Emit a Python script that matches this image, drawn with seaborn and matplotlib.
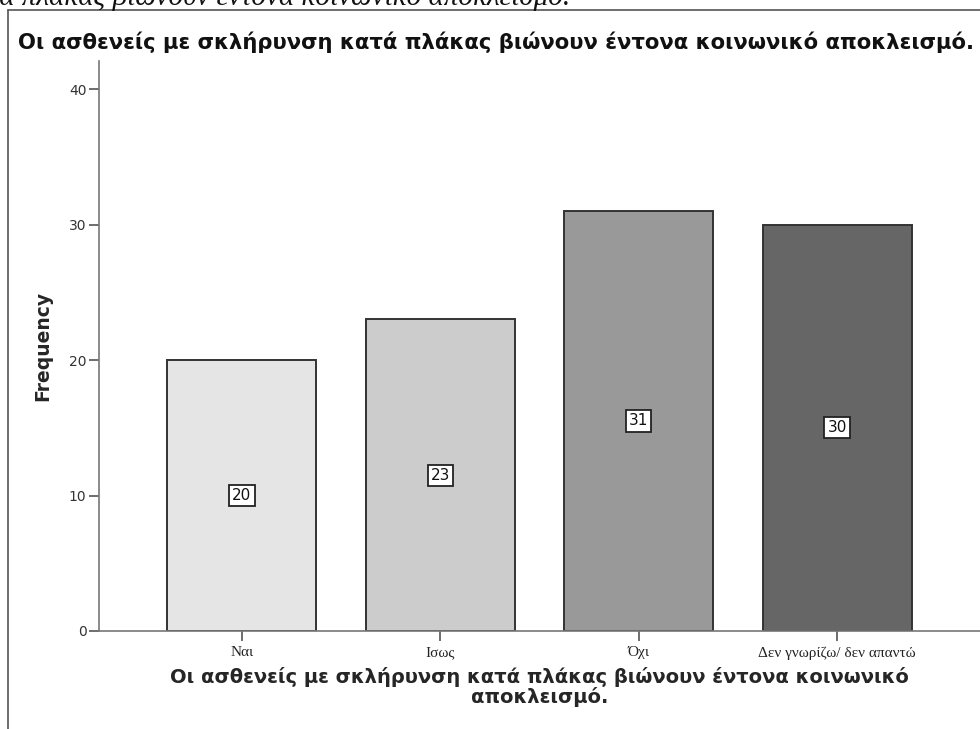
import matplotlib
matplotlib.use("Agg")
import matplotlib.pyplot as plt
from matplotlib.lines import Line2D
import seaborn as sns
import pandas as pd

# Survey responses and their counts
categories = ["Ναι", "Ισως", "Όχι", "Δεν γνωρίζω/ δεν απαντώ"]
counts = [20, 23, 31, 30]
bar_colors = ["#e5e5e5", "#cccccc", "#999999", "#666666"]
y_ticks = [0, 10, 20, 30, 40]

question = "Οι ασθενείς με σκλήρυνση κατά πλάκας βιώνουν έντονα κοινωνικό αποκλεισμό."
x_label = "Οι ασθενείς με σκλήρυνση κατά πλάκας βιώνουν έντονα κοινωνικό\nαποκλεισμό."

sns.set_theme(style="white")
plt.rcParams["font.family"] = ["DejaVu Sans"]

W, H = 980, 729
fig = plt.figure(figsize=(W / 100, H / 100), dpi=100)
fig.patch.set_facecolor("white")

ax = fig.add_axes([99 / W, 1 - 631 / H, (W - 99) / W, (631 - 61) / H])

df = pd.DataFrame({"cat": categories, "n": counts})
sns.barplot(data=df, x="cat", y="n", hue="cat", palette=bar_colors,
            width=0.75, edgecolor="#333333", linewidth=1.4, legend=False,
            saturation=1, ax=ax)

ax.set_xlim(-0.72, 3.72)
ax.set_ylim(0, 42.07)
ax.set_yticks(y_ticks)
ax.set_yticklabels([str(t) for t in y_ticks], fontsize=10, color="#333333")
ax.set_xticks(range(len(categories)))
ax.set_xticklabels(categories, fontsize=11, family="Liberation Serif", color="#222222")
ax.tick_params(axis="both", which="both", length=7, width=1.2, color="#555555",
               direction="out", left=True, bottom=True, pad=2)
ax.tick_params(axis="x", pad=4)

for s in ["top", "right"]:
    ax.spines[s].set_visible(False)
for s in ["left", "bottom"]:
    ax.spines[s].set_color("#777777")
    ax.spines[s].set_linewidth(1.2)

# Count labels in boxes at mid-height of each bar
for i, v in enumerate(counts):
    ax.text(i, v / 2, str(v), ha="center", va="center", fontsize=11,
            color="#111111",
            bbox=dict(boxstyle="square,pad=0.2", facecolor="white",
                      edgecolor="#222222", linewidth=1.3))

ax.set_ylabel("Frequency", fontsize=13.5, fontweight="bold", labelpad=12)
ax.set_xlabel(x_label, fontsize=14, fontweight="bold", labelpad=5,
              linespacing=1.0)

# Chart title
fig.text(18 / W, 1 - 42 / H, question, fontsize=15.2, fontweight="bold",
         ha="left", va="center", color="#111111")

# Caption line running off the top edge
fig.text(570 / W, 1 - 5 / H, question, fontsize=21, style="italic",
         family="Liberation Serif", ha="right", va="baseline", color="#111111")

# Frame around the chart
fig.add_artist(Line2D([8 / W, 8 / W], [0, 1 - 10 / H], transform=fig.transFigure,
                      color="#555555", linewidth=1.2))
fig.add_artist(Line2D([8 / W, 1], [1 - 10 / H, 1 - 10 / H], transform=fig.transFigure,
                      color="#555555", linewidth=1.2))

fig.savefig("out.png", dpi=100, facecolor="white")
